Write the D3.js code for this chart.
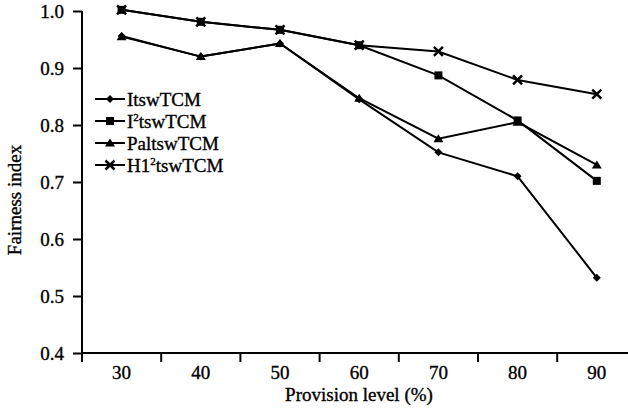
<!doctype html>
<html>
<head>
<meta charset="utf-8" />
<script src="https://cdn.jsdelivr.net/npm/d3@7"></script>
<style>
	body { margin: 0; background: #fff; }
	svg { display: block; }
	svg text { font-family: "Liberation Serif", "Times New Roman", serif; fill: #000; font-size: 19px; stroke: #000; stroke-width: 0.35; }
	.axis path, .axis line { stroke: #000; stroke-width: 2; }
</style>
</head>
<body>
<div id="app"></div>
<script>
const levels = ['30', '40', '50', '60', '70', '80', '90'];
const itsw = [0.956, 0.920, 0.943, 0.845, 0.752, 0.710, 0.532];
const i2tsw = [1.002, 0.981, 0.967, 0.940, 0.887, 0.808, 0.702];
const paltsw = [0.955, 0.920, 0.943, 0.847, 0.776, 0.805, 0.730];
const h12tsw = [1.002, 0.981, 0.967, 0.940, 0.929, 0.879, 0.854];
const yTicks = [0.4, 0.5, 0.6, 0.7, 0.8, 0.9, 1.0];

const series = [
	{ name: 'ItswTCM', sup: null, values: itsw, sym: 'diamond' },
	{ name: 'I', sup: '2', rest: 'tswTCM', values: i2tsw, sym: 'square' },
	{ name: 'PaltswTCM', sup: null, values: paltsw, sym: 'triangle' },
	{ name: 'H1', sup: '2', rest: 'tswTCM', values: h12tsw, sym: 'cross' }
];

const W = 628, H = 410;
const m = { left: 82, top: 11, bottom: 57 };
const svg = d3.select('#app').append('svg').attr('width', W).attr('height', H);

const x = d3.scaleBand().domain(levels).range([m.left, m.left + 7 * 79.2]);
const y = d3.scaleLinear().domain([0.4, 1.0]).range([H - m.bottom, m.top]);

// x axis: ticks sit between categories, line runs to the edge
const xAxis = svg.append('g').attr('class', 'axis').attr('transform', `translate(0,${H - m.bottom})`);
xAxis.append('line').attr('x1', m.left).attr('x2', W).attr('y1', 0).attr('y2', 0);
xAxis.selectAll('line.tk').data(levels).join('line').attr('class', 'tk')
	.attr('x1', d => x(d)).attr('x2', d => x(d)).attr('y1', 0).attr('y2', 9);
xAxis.selectAll('text').data(levels).join('text')
	.attr('x', d => x(d) + x.bandwidth() / 2).attr('y', 26)
	.attr('text-anchor', 'middle').text(d => d);

const yAxis = svg.append('g').attr('class', 'axis').attr('transform', `translate(${m.left},0)`)
	.call(d3.axisLeft(y).tickValues(yTicks).tickFormat(d3.format('.1f')).tickSize(9).tickPadding(9));
yAxis.attr('font-family', null).attr('font-size', null);
yAxis.select('.domain').attr('d', `M0,${m.top}V${H - m.bottom}`);

svg.append('text').attr('transform', 'translate(21,200) rotate(-90)')
	.attr('text-anchor', 'middle')
	.text('Fairness index');
svg.append('text').attr('x', 359).attr('y', 401)
	.attr('text-anchor', 'middle')
	.text('Provision level (%)');

const cx = i => x(levels[i]) + x.bandwidth() / 2;
const line = d3.line().x((d, i) => cx(i)).y(d => y(d));

function marker(g, sym) {
	if (sym === 'diamond') g.append('path').attr('d', 'M0,-4L4,0L0,4L-4,0Z');
	else if (sym === 'square') g.append('rect').attr('x', -4).attr('y', -4).attr('width', 8).attr('height', 8);
	else if (sym === 'triangle') g.append('path').attr('d', 'M0,-4.5L5,3.5L-5,3.5Z');
	else g.append('path').attr('d', 'M-4.5,-4.5L4.5,4.5M-4.5,4.5L4.5,-4.5').attr('stroke', '#000').attr('stroke-width', 2.5);
}

const plot = svg.append('g');
series.forEach(s => {
	plot.append('path').datum(s.values).attr('d', line)
		.attr('fill', 'none').attr('stroke', '#000').attr('stroke-width', 2);
	s.values.forEach((v, i) => {
		const g = plot.append('g').attr('transform', `translate(${cx(i)},${y(v)})`).attr('fill', '#000');
		marker(g, s.sym);
	});
});

// legend
const leg = svg.append('g');
series.forEach((s, i) => {
	const yy = 99 + i * 22;
	leg.append('line').attr('x1', 95).attr('x2', 125).attr('y1', yy).attr('y2', yy)
		.attr('stroke', '#000').attr('stroke-width', 2);
	const g = leg.append('g').attr('transform', `translate(110,${yy})`).attr('fill', '#000');
	marker(g, s.sym);
	const t = leg.append('text').attr('x', 127).attr('y', yy + 6.5);
	if (s.sup) {
		t.append('tspan').text(s.name);
		t.append('tspan').attr('dy', -7).style('font-size', '11px').text(s.sup);
		t.append('tspan').attr('dy', 7).text(s.rest);
	} else {
		t.text(s.name);
	}
});
</script>
</body>
</html>
